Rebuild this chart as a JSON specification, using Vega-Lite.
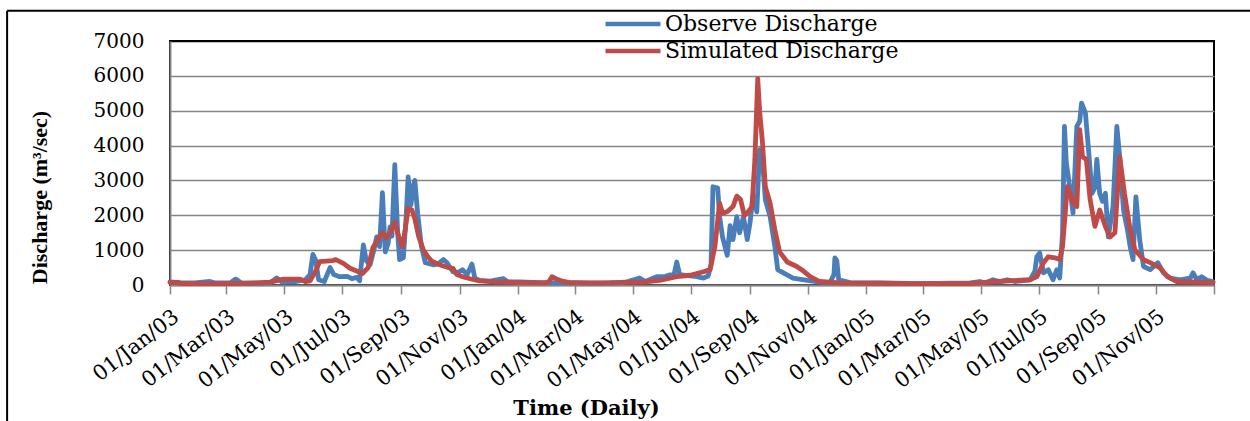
{
"$schema": "https://vega.github.io/schema/vega-lite/v6.json",
"width": 1044, "height": 244,
"autosize": {"type": "none"},
"padding": {"left": 170, "top": 41, "right": 36, "bottom": 136},
"background": "white",
"config": {"view": {"stroke": "black", "strokeWidth": 2}, "font": "DejaVu Serif"},
"layer": [
{
"data": {"values": [
{"date":"2003-01-01","series":"Observe Discharge","q":90},{"date":"2003-01-11","series":"Observe Discharge","q":70},{"date":"2003-01-27","series":"Observe Discharge","q":60},{"date":"2003-02-12","series":"Observe Discharge","q":100},{"date":"2003-02-17","series":"Observe Discharge","q":60},{"date":"2003-03-05","series":"Observe Discharge","q":60},{"date":"2003-03-11","series":"Observe Discharge","q":170},{"date":"2003-03-17","series":"Observe Discharge","q":60},{"date":"2003-03-31","series":"Observe Discharge","q":50},{"date":"2003-04-16","series":"Observe Discharge","q":60},{"date":"2003-04-23","series":"Observe Discharge","q":200},{"date":"2003-04-29","series":"Observe Discharge","q":80},{"date":"2003-05-12","series":"Observe Discharge","q":100},{"date":"2003-05-23","series":"Observe Discharge","q":150},{"date":"2003-05-28","series":"Observe Discharge","q":300},{"date":"2003-05-31","series":"Observe Discharge","q":880},{"date":"2003-06-03","series":"Observe Discharge","q":700},{"date":"2003-06-06","series":"Observe Discharge","q":150},{"date":"2003-06-12","series":"Observe Discharge","q":100},{"date":"2003-06-18","series":"Observe Discharge","q":500},{"date":"2003-06-22","series":"Observe Discharge","q":300},{"date":"2003-06-28","series":"Observe Discharge","q":240},{"date":"2003-07-06","series":"Observe Discharge","q":250},{"date":"2003-07-11","series":"Observe Discharge","q":180},{"date":"2003-07-16","series":"Observe Discharge","q":220},{"date":"2003-07-19","series":"Observe Discharge","q":120},{"date":"2003-07-23","series":"Observe Discharge","q":1150},{"date":"2003-07-26","series":"Observe Discharge","q":700},{"date":"2003-07-30","series":"Observe Discharge","q":580},{"date":"2003-08-03","series":"Observe Discharge","q":1000},{"date":"2003-08-06","series":"Observe Discharge","q":1380},{"date":"2003-08-09","series":"Observe Discharge","q":1100},{"date":"2003-08-12","series":"Observe Discharge","q":2650},{"date":"2003-08-15","series":"Observe Discharge","q":950},{"date":"2003-08-18","series":"Observe Discharge","q":1200},{"date":"2003-08-20","series":"Observe Discharge","q":1670},{"date":"2003-08-22","series":"Observe Discharge","q":1400},{"date":"2003-08-25","series":"Observe Discharge","q":3450},{"date":"2003-08-28","series":"Observe Discharge","q":1500},{"date":"2003-08-30","series":"Observe Discharge","q":730},{"date":"2003-09-03","series":"Observe Discharge","q":780},{"date":"2003-09-06","series":"Observe Discharge","q":2000},{"date":"2003-09-08","series":"Observe Discharge","q":3100},{"date":"2003-09-11","series":"Observe Discharge","q":2300},{"date":"2003-09-13","series":"Observe Discharge","q":2800},{"date":"2003-09-15","series":"Observe Discharge","q":3000},{"date":"2003-09-18","series":"Observe Discharge","q":2050},{"date":"2003-09-22","series":"Observe Discharge","q":1100},{"date":"2003-09-26","series":"Observe Discharge","q":640},{"date":"2003-10-04","series":"Observe Discharge","q":580},{"date":"2003-10-09","series":"Observe Discharge","q":600},{"date":"2003-10-15","series":"Observe Discharge","q":730},{"date":"2003-10-19","series":"Observe Discharge","q":630},{"date":"2003-10-25","series":"Observe Discharge","q":380},{"date":"2003-10-30","series":"Observe Discharge","q":350},{"date":"2003-11-04","series":"Observe Discharge","q":440},{"date":"2003-11-09","series":"Observe Discharge","q":300},{"date":"2003-11-14","series":"Observe Discharge","q":600},{"date":"2003-11-17","series":"Observe Discharge","q":200},{"date":"2003-11-22","series":"Observe Discharge","q":130},{"date":"2003-12-03","series":"Observe Discharge","q":110},{"date":"2003-12-17","series":"Observe Discharge","q":180},{"date":"2003-12-21","series":"Observe Discharge","q":100},
{"date":"2004-01-03","series":"Observe Discharge","q":90},{"date":"2004-01-24","series":"Observe Discharge","q":70},{"date":"2004-02-14","series":"Observe Discharge","q":60},{"date":"2004-03-01","series":"Observe Discharge","q":70},{"date":"2004-03-17","series":"Observe Discharge","q":50},{"date":"2004-04-07","series":"Observe Discharge","q":60},{"date":"2004-04-23","series":"Observe Discharge","q":80},{"date":"2004-05-08","series":"Observe Discharge","q":200},{"date":"2004-05-14","series":"Observe Discharge","q":100},{"date":"2004-05-26","series":"Observe Discharge","q":240},{"date":"2004-06-04","series":"Observe Discharge","q":250},{"date":"2004-06-09","series":"Observe Discharge","q":290},{"date":"2004-06-13","series":"Observe Discharge","q":280},{"date":"2004-06-16","series":"Observe Discharge","q":660},{"date":"2004-06-19","series":"Observe Discharge","q":300},{"date":"2004-06-30","series":"Observe Discharge","q":260},{"date":"2004-07-07","series":"Observe Discharge","q":240},{"date":"2004-07-14","series":"Observe Discharge","q":200},{"date":"2004-07-19","series":"Observe Discharge","q":260},{"date":"2004-07-22","series":"Observe Discharge","q":600},{"date":"2004-07-24","series":"Observe Discharge","q":2820},{"date":"2004-07-29","series":"Observe Discharge","q":2780},{"date":"2004-07-31","series":"Observe Discharge","q":1960},{"date":"2004-08-03","series":"Observe Discharge","q":1380},{"date":"2004-08-08","series":"Observe Discharge","q":850},{"date":"2004-08-11","series":"Observe Discharge","q":1700},{"date":"2004-08-14","series":"Observe Discharge","q":1300},{"date":"2004-08-18","series":"Observe Discharge","q":1960},{"date":"2004-08-21","series":"Observe Discharge","q":1500},{"date":"2004-08-25","series":"Observe Discharge","q":1960},{"date":"2004-08-29","series":"Observe Discharge","q":1300},{"date":"2004-09-01","series":"Observe Discharge","q":1800},{"date":"2004-09-04","series":"Observe Discharge","q":2550},{"date":"2004-09-08","series":"Observe Discharge","q":2100},{"date":"2004-09-11","series":"Observe Discharge","q":3880},{"date":"2004-09-14","series":"Observe Discharge","q":3600},{"date":"2004-09-17","series":"Observe Discharge","q":2440},{"date":"2004-09-22","series":"Observe Discharge","q":1960},{"date":"2004-09-27","series":"Observe Discharge","q":1100},{"date":"2004-09-30","series":"Observe Discharge","q":440},{"date":"2004-10-06","series":"Observe Discharge","q":350},{"date":"2004-10-16","series":"Observe Discharge","q":200},{"date":"2004-10-31","series":"Observe Discharge","q":130},{"date":"2004-11-13","series":"Observe Discharge","q":80},{"date":"2004-11-24","series":"Observe Discharge","q":70},{"date":"2004-11-28","series":"Observe Discharge","q":300},{"date":"2004-11-29","series":"Observe Discharge","q":780},{"date":"2004-12-01","series":"Observe Discharge","q":700},{"date":"2004-12-03","series":"Observe Discharge","q":150},{"date":"2004-12-15","series":"Observe Discharge","q":70},
{"date":"2005-01-15","series":"Observe Discharge","q":60},{"date":"2005-03-01","series":"Observe Discharge","q":40},{"date":"2005-03-30","series":"Observe Discharge","q":50},{"date":"2005-04-20","series":"Observe Discharge","q":60},{"date":"2005-04-30","series":"Observe Discharge","q":100},{"date":"2005-05-06","series":"Observe Discharge","q":60},{"date":"2005-05-14","series":"Observe Discharge","q":150},{"date":"2005-05-21","series":"Observe Discharge","q":90},{"date":"2005-05-29","series":"Observe Discharge","q":150},{"date":"2005-06-06","series":"Observe Discharge","q":100},{"date":"2005-06-22","series":"Observe Discharge","q":150},{"date":"2005-06-27","series":"Observe Discharge","q":400},{"date":"2005-06-29","series":"Observe Discharge","q":810},{"date":"2005-07-02","series":"Observe Discharge","q":920},{"date":"2005-07-06","series":"Observe Discharge","q":350},{"date":"2005-07-11","series":"Observe Discharge","q":440},{"date":"2005-07-16","series":"Observe Discharge","q":150},{"date":"2005-07-20","series":"Observe Discharge","q":440},{"date":"2005-07-23","series":"Observe Discharge","q":200},{"date":"2005-07-26","series":"Observe Discharge","q":1500},{"date":"2005-07-28","series":"Observe Discharge","q":4550},{"date":"2005-07-30","series":"Observe Discharge","q":3500},{"date":"2005-08-01","series":"Observe Discharge","q":3120},{"date":"2005-08-06","series":"Observe Discharge","q":2060},{"date":"2005-08-10","series":"Observe Discharge","q":4550},{"date":"2005-08-13","series":"Observe Discharge","q":4700},{"date":"2005-08-15","series":"Observe Discharge","q":5220},{"date":"2005-08-19","series":"Observe Discharge","q":4940},{"date":"2005-08-22","series":"Observe Discharge","q":3970},{"date":"2005-08-26","series":"Observe Discharge","q":2630},{"date":"2005-08-29","series":"Observe Discharge","q":2800},{"date":"2005-08-31","series":"Observe Discharge","q":3600},{"date":"2005-09-03","series":"Observe Discharge","q":2630},{"date":"2005-09-06","series":"Observe Discharge","q":2400},{"date":"2005-09-09","series":"Observe Discharge","q":2630},{"date":"2005-09-12","series":"Observe Discharge","q":1380},{"date":"2005-09-17","series":"Observe Discharge","q":2250},{"date":"2005-09-21","series":"Observe Discharge","q":4550},{"date":"2005-09-24","series":"Observe Discharge","q":3680},{"date":"2005-09-28","series":"Observe Discharge","q":2150},{"date":"2005-10-02","series":"Observe Discharge","q":1600},{"date":"2005-10-05","series":"Observe Discharge","q":1100},{"date":"2005-10-08","series":"Observe Discharge","q":730},{"date":"2005-10-11","series":"Observe Discharge","q":2530},{"date":"2005-10-15","series":"Observe Discharge","q":1300},{"date":"2005-10-19","series":"Observe Discharge","q":530},{"date":"2005-10-26","series":"Observe Discharge","q":440},{"date":"2005-11-03","series":"Observe Discharge","q":640},{"date":"2005-11-09","series":"Observe Discharge","q":350},{"date":"2005-11-16","series":"Observe Discharge","q":200},{"date":"2005-11-26","series":"Observe Discharge","q":150},{"date":"2005-12-07","series":"Observe Discharge","q":200},{"date":"2005-12-10","series":"Observe Discharge","q":350},{"date":"2005-12-14","series":"Observe Discharge","q":150},{"date":"2005-12-19","series":"Observe Discharge","q":240},{"date":"2005-12-25","series":"Observe Discharge","q":130},{"date":"2005-12-31","series":"Observe Discharge","q":100},
{"date":"2003-01-01","series":"Simulated Discharge","q":75},{"date":"2003-01-09","series":"Simulated Discharge","q":75},{"date":"2003-01-13","series":"Simulated Discharge","q":40},{"date":"2003-03-05","series":"Simulated Discharge","q":40},{"date":"2003-04-01","series":"Simulated Discharge","q":60},{"date":"2003-04-16","series":"Simulated Discharge","q":80},{"date":"2003-04-30","series":"Simulated Discharge","q":170},{"date":"2003-05-17","series":"Simulated Discharge","q":170},{"date":"2003-05-23","series":"Simulated Discharge","q":100},{"date":"2003-05-28","series":"Simulated Discharge","q":120},{"date":"2003-06-03","series":"Simulated Discharge","q":400},{"date":"2003-06-07","series":"Simulated Discharge","q":670},{"date":"2003-06-21","series":"Simulated Discharge","q":700},{"date":"2003-06-24","series":"Simulated Discharge","q":730},{"date":"2003-07-02","series":"Simulated Discharge","q":620},{"date":"2003-07-09","series":"Simulated Discharge","q":480},{"date":"2003-07-16","series":"Simulated Discharge","q":400},{"date":"2003-07-22","series":"Simulated Discharge","q":330},{"date":"2003-07-28","series":"Simulated Discharge","q":500},{"date":"2003-08-02","series":"Simulated Discharge","q":1070},{"date":"2003-08-07","series":"Simulated Discharge","q":1300},{"date":"2003-08-12","series":"Simulated Discharge","q":1500},{"date":"2003-08-16","series":"Simulated Discharge","q":1350},{"date":"2003-08-20","series":"Simulated Discharge","q":1500},{"date":"2003-08-25","series":"Simulated Discharge","q":1800},{"date":"2003-08-29","series":"Simulated Discharge","q":1400},{"date":"2003-09-02","series":"Simulated Discharge","q":1100},{"date":"2003-09-05","series":"Simulated Discharge","q":1600},{"date":"2003-09-08","series":"Simulated Discharge","q":2200},{"date":"2003-09-12","series":"Simulated Discharge","q":2150},{"date":"2003-09-15","series":"Simulated Discharge","q":1900},{"date":"2003-09-19","series":"Simulated Discharge","q":1400},{"date":"2003-09-24","series":"Simulated Discharge","q":1000},{"date":"2003-09-29","series":"Simulated Discharge","q":800},{"date":"2003-10-03","series":"Simulated Discharge","q":680},{"date":"2003-10-14","series":"Simulated Discharge","q":550},{"date":"2003-10-20","series":"Simulated Discharge","q":500},{"date":"2003-10-25","series":"Simulated Discharge","q":480},{"date":"2003-10-29","series":"Simulated Discharge","q":300},{"date":"2003-11-05","series":"Simulated Discharge","q":230},{"date":"2003-11-12","series":"Simulated Discharge","q":180},{"date":"2003-11-22","series":"Simulated Discharge","q":120},{"date":"2003-12-08","series":"Simulated Discharge","q":90},
{"date":"2004-01-03","series":"Simulated Discharge","q":70},{"date":"2004-01-30","series":"Simulated Discharge","q":60},{"date":"2004-02-03","series":"Simulated Discharge","q":100},{"date":"2004-02-06","series":"Simulated Discharge","q":240},{"date":"2004-02-10","series":"Simulated Discharge","q":180},{"date":"2004-02-17","series":"Simulated Discharge","q":110},{"date":"2004-02-25","series":"Simulated Discharge","q":70},{"date":"2004-03-27","series":"Simulated Discharge","q":60},{"date":"2004-04-17","series":"Simulated Discharge","q":70},{"date":"2004-05-14","series":"Simulated Discharge","q":90},{"date":"2004-05-29","series":"Simulated Discharge","q":130},{"date":"2004-06-16","series":"Simulated Discharge","q":240},{"date":"2004-06-30","series":"Simulated Discharge","q":280},{"date":"2004-07-14","series":"Simulated Discharge","q":380},{"date":"2004-07-21","series":"Simulated Discharge","q":440},{"date":"2004-07-26","series":"Simulated Discharge","q":1100},{"date":"2004-07-31","series":"Simulated Discharge","q":2350},{"date":"2004-08-03","series":"Simulated Discharge","q":2060},{"date":"2004-08-08","series":"Simulated Discharge","q":2100},{"date":"2004-08-14","series":"Simulated Discharge","q":2250},{"date":"2004-08-18","series":"Simulated Discharge","q":2550},{"date":"2004-08-22","series":"Simulated Discharge","q":2450},{"date":"2004-08-26","series":"Simulated Discharge","q":1990},{"date":"2004-08-30","series":"Simulated Discharge","q":2100},{"date":"2004-09-03","series":"Simulated Discharge","q":2250},{"date":"2004-09-06","series":"Simulated Discharge","q":3600},{"date":"2004-09-09","series":"Simulated Discharge","q":5920},{"date":"2004-09-11","series":"Simulated Discharge","q":5000},{"date":"2004-09-14","series":"Simulated Discharge","q":4080},{"date":"2004-09-17","series":"Simulated Discharge","q":2820},{"date":"2004-09-22","series":"Simulated Discharge","q":2350},{"date":"2004-09-27","series":"Simulated Discharge","q":1580},{"date":"2004-10-02","series":"Simulated Discharge","q":950},{"date":"2004-10-10","series":"Simulated Discharge","q":660},{"date":"2004-10-20","series":"Simulated Discharge","q":530},{"date":"2004-10-27","series":"Simulated Discharge","q":400},{"date":"2004-11-03","series":"Simulated Discharge","q":240},{"date":"2004-11-13","series":"Simulated Discharge","q":100},{"date":"2004-12-04","series":"Simulated Discharge","q":60},
{"date":"2005-01-15","series":"Simulated Discharge","q":50},{"date":"2005-02-19","series":"Simulated Discharge","q":40},{"date":"2005-04-20","series":"Simulated Discharge","q":40},{"date":"2005-05-18","series":"Simulated Discharge","q":100},{"date":"2005-06-22","series":"Simulated Discharge","q":150},{"date":"2005-06-29","series":"Simulated Discharge","q":240},{"date":"2005-07-06","series":"Simulated Discharge","q":640},{"date":"2005-07-11","series":"Simulated Discharge","q":810},{"date":"2005-07-18","series":"Simulated Discharge","q":780},{"date":"2005-07-23","series":"Simulated Discharge","q":730},{"date":"2005-07-26","series":"Simulated Discharge","q":1100},{"date":"2005-07-31","series":"Simulated Discharge","q":2820},{"date":"2005-08-03","series":"Simulated Discharge","q":2630},{"date":"2005-08-06","series":"Simulated Discharge","q":2350},{"date":"2005-08-10","series":"Simulated Discharge","q":2250},{"date":"2005-08-13","series":"Simulated Discharge","q":4460},{"date":"2005-08-16","series":"Simulated Discharge","q":3680},{"date":"2005-08-20","series":"Simulated Discharge","q":3600},{"date":"2005-08-24","series":"Simulated Discharge","q":2440},{"date":"2005-08-29","series":"Simulated Discharge","q":1680},{"date":"2005-09-03","series":"Simulated Discharge","q":2150},{"date":"2005-09-09","series":"Simulated Discharge","q":1680},{"date":"2005-09-14","series":"Simulated Discharge","q":1380},{"date":"2005-09-19","series":"Simulated Discharge","q":1500},{"date":"2005-09-24","series":"Simulated Discharge","q":3680},{"date":"2005-09-29","series":"Simulated Discharge","q":2630},{"date":"2005-10-05","series":"Simulated Discharge","q":1580},{"date":"2005-10-10","series":"Simulated Discharge","q":1010},{"date":"2005-10-19","series":"Simulated Discharge","q":730},{"date":"2005-10-26","series":"Simulated Discharge","q":640},{"date":"2005-11-05","series":"Simulated Discharge","q":500},{"date":"2005-11-13","series":"Simulated Discharge","q":240},{"date":"2005-11-23","series":"Simulated Discharge","q":100},{"date":"2005-12-31","series":"Simulated Discharge","q":70}
]},
"mark": {"type": "line", "strokeWidth": 4.8, "strokeCap": "round", "strokeJoin": "round"},
"encoding": {
"x": {"field": "date", "type": "temporal",
"scale": {"type": "utc", "domain": [{"year": 2003, "month": 1, "date": 1, "utc": true}, {"year": 2006, "month": 1, "date": 1, "utc": true}]},
"axis": {
"title": "Time (Daily)", "titleFont": "DejaVu Serif", "titleFontWeight": "bold", "titleFontSize": 21, "titleColor": "black",
"titleX": 416, "titleY": 129, "titleAlign": "center", "titleBaseline": "alphabetic", "titleAnchor": null,
"tickCount": {"interval": "month", "step": 2},
"labelExpr": "datum.value >= utc(2006,0,1) ? '' : utcFormat(datum.value, '%d/%b/%y')",
"labelAngle": -38, "labelAlign": "right", "labelBaseline": "middle",
"labelFont": "DejaVu Serif", "labelFontSize": 21, "labelColor": "black",
"labelPadding": 20, "labelOffset": 6, "labelOverlap": false, "labelBound": false, "labelFlush": false,
"tickColor": "#868686", "tickSize": 9, "tickWidth": 1.5,
"domainColor": "#868686", "domainWidth": 2, "grid": false
}},
"y": {"field": "q", "type": "quantitative", "scale": {"domain": [0, 7000]},
"axis": {
"title": "Discharge (m³/sec)", "titleFont": "Liberation Serif", "titleFontWeight": "bold", "titleFontSize": 22, "titleColor": "black",
"titleX": -131, "titleY": 156, "titleAlign": "center", "titleBaseline": "middle", "titleAnchor": null, "titleAngle": 270,
"values": [0, 1000, 2000, 3000, 4000, 5000, 6000, 7000], "tickCount": 20,
"labelExpr": "'' + datum.value", "labelOverlap": false,
"labelFont": "DejaVu Serif", "labelFontSize": 20, "labelColor": "black", "labelPadding": 26,
"ticks": false,
"gridColor": {"condition": {"test": "datum.value === 7000", "value": "black"}, "value": "#868686"},
"gridWidth": 1.5,
"domainColor": "#868686", "domainWidth": 2
}},
"color": {"field": "series", "type": "nominal",
"scale": {"domain": ["Observe Discharge", "Simulated Discharge"], "range": ["#4A7EBB", "#BE4B48"]},
"legend": {
"title": null, "orient": "none", "legendX": 436, "legendY": -28, "direction": "vertical",
"symbolType": "M-5,0H5", "symbolSize": 121, "symbolStrokeWidth": 4.5, "symbolOffset": 16,
"labelOffset": 21, "labelFont": "DejaVu Serif", "labelFontSize": 22, "labelColor": "black",
"rowPadding": 5, "padding": 0, "labelLimit": 400
}}
}
},
{
"data": {"values": [{}]},
"mark": {"type": "rule", "color": "black", "strokeWidth": 2},
"encoding": {
"x": {"datum": {"year": 2002, "month": 7, "date": 14, "utc": true}, "type": "temporal"},
"x2": {"datum": {"year": 2006, "month": 6, "date": 1, "utc": true}},
"y": {"datum": 7869, "type": "quantitative"}
}
},
{
"data": {"values": [{}]},
"mark": {"type": "rule", "color": "black", "strokeWidth": 2},
"encoding": {
"x": {"datum": {"year": 2002, "month": 7, "date": 14, "utc": true}, "type": "temporal"},
"y": {"datum": 7869, "type": "quantitative"},
"y2": {"datum": -4000}
}
}
]
}
